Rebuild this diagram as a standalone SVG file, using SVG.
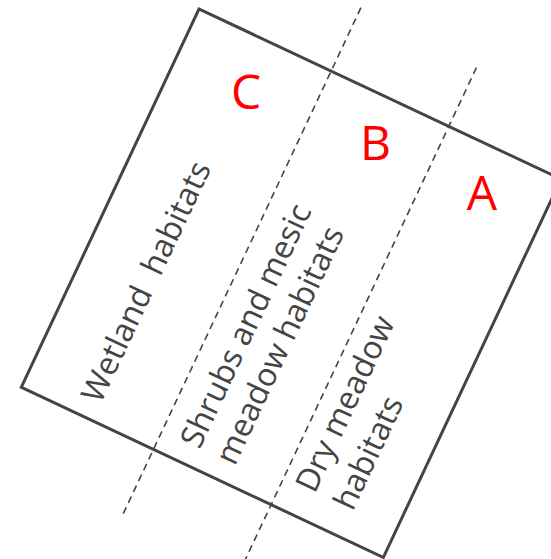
<svg xmlns="http://www.w3.org/2000/svg" width="551" height="559" viewBox="0 0 551 559">
  <style>
    .frame { fill: none; stroke: #444; stroke-width: 3; }
    .zone { fill: none; stroke: #444; stroke-width: 1.6; stroke-dasharray: 7 5; }
    .hab { font-family: "Open Sans", "Liberation Sans", sans-serif; font-size: 32px; fill: #444; }
    .key { font-family: "Open Sans", "Liberation Sans", sans-serif; font-size: 48px; fill: #ff0000; text-anchor: middle; }
  </style>
  <rect width="551" height="559" fill="#fff"/>
  <!-- tilted plot: local u runs along the top edge, v along the left edge -->
  <g transform="translate(199,9) rotate(25.16)">
    <g id="plot">
      <rect class="frame" x="0" y="0" width="400" height="418"/>
    </g>
    <g id="connectors">
      <line class="zone" x1="146" y1="-70" x2="146" y2="491"/>
      <line class="zone" x1="276" y1="-65" x2="276" y2="485"/>
    </g>
    <g id="wetland">
      <text class="hab" transform="translate(79,400) rotate(-90)" xml:space="preserve">Wetland  habitats</text>
    </g>
    <g id="shrubs">
      <text class="hab" transform="translate(188,399) rotate(-90)">Shrubs and mesic<tspan x="0" dy="39">meadow habitats</tspan></text>
    </g>
    <g id="dry">
      <text class="hab" transform="translate(311,390) rotate(-90)">Dry meadow<tspan x="0" dy="42">habitats</tspan></text>
    </g>
  </g>
  <g id="labels">
    <text class="key" x="246" y="109">C</text>
    <text class="key" x="375.5" y="160">B</text>
    <text class="key" x="482" y="210">A</text>
  </g>
</svg>
